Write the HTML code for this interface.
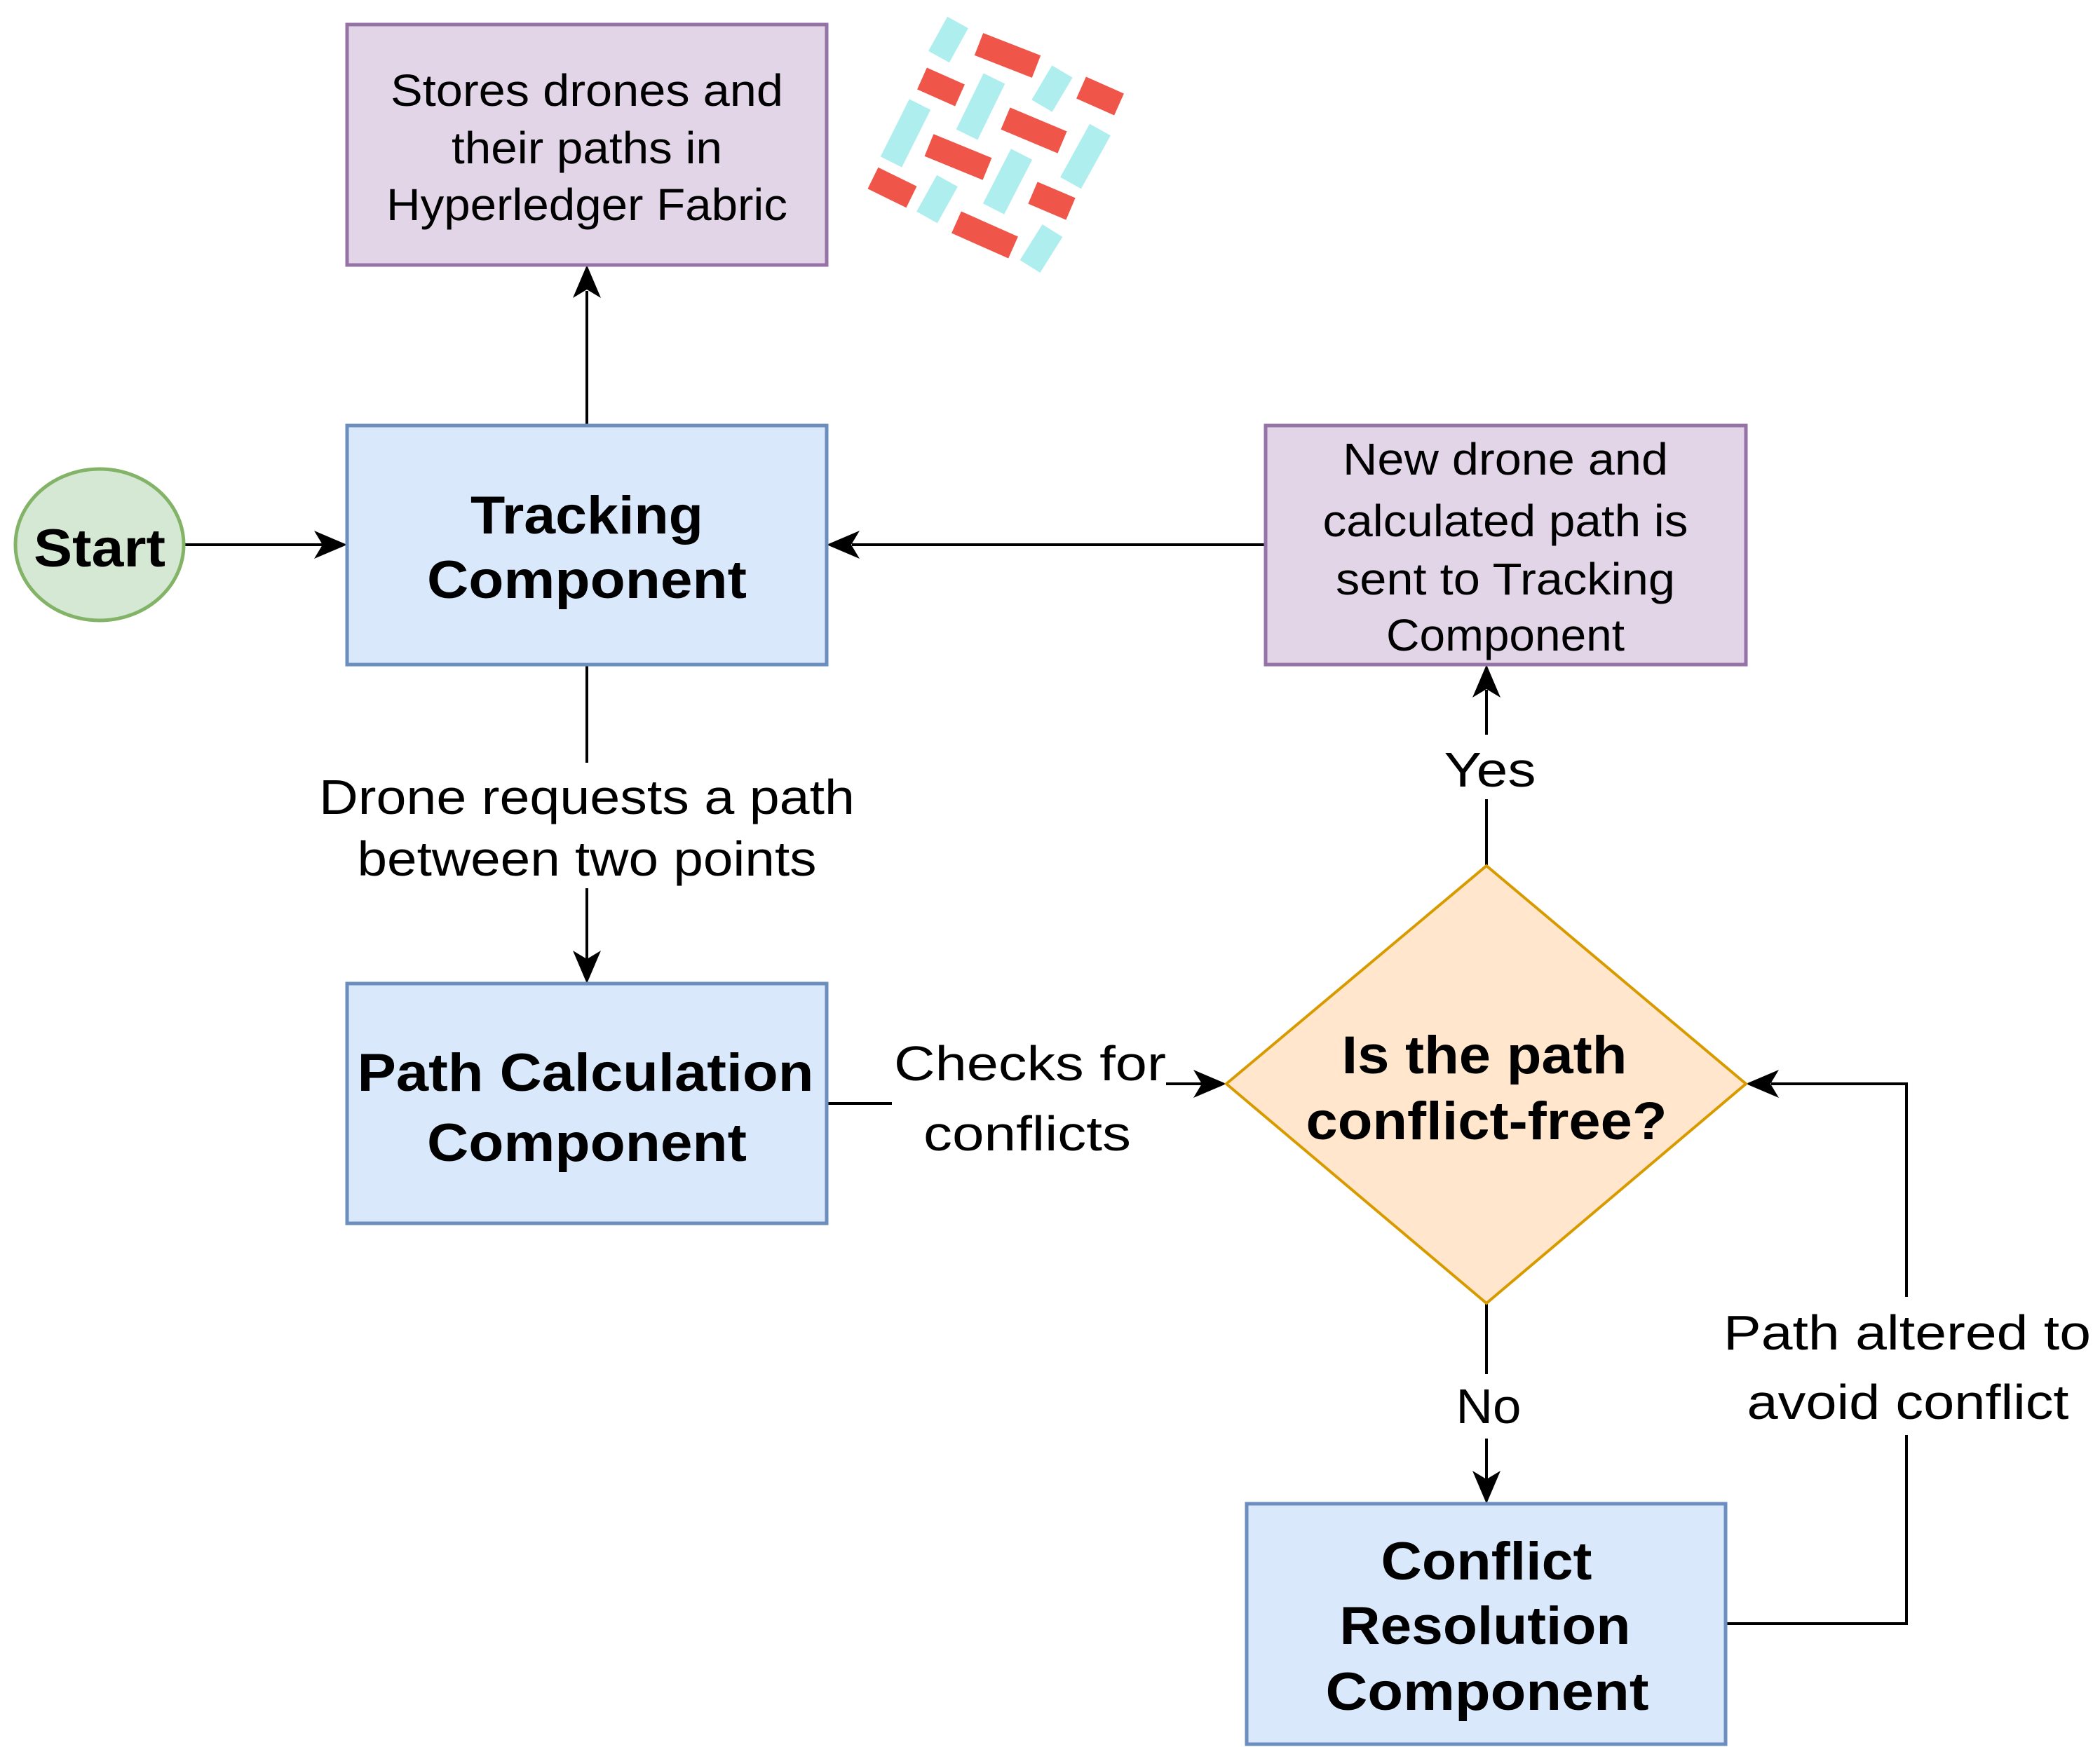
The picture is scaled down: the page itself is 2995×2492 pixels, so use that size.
<!DOCTYPE html>
<html><head><meta charset="utf-8"><style>
html,body{margin:0;padding:0;background:#fff;}
svg{display:block;}
text{font-family:"Liberation Sans",Arial,sans-serif;fill:#000;}
</style></head><body>
<svg width="2995" height="2492" viewBox="0 0 2995 2492" xmlns="http://www.w3.org/2000/svg">
<rect width="2995" height="2492" fill="#fff"/>

<!-- logo -->
<g stroke-width="34" stroke-linecap="butt">
<g stroke="#aeeeee">
<line x1="1366" y1="32" x2="1339" y2="81"/>
<line x1="1515" y1="102" x2="1486" y2="151"/>
<line x1="1418" y1="112" x2="1379" y2="192"/>
<line x1="1312" y1="149" x2="1271" y2="231"/>
<line x1="1569" y1="185" x2="1527" y2="261"/>
<line x1="1457" y1="220" x2="1417" y2="298"/>
<line x1="1351" y1="258" x2="1322" y2="310"/>
<line x1="1501" y1="329" x2="1469" y2="380"/>
</g>
<g stroke="#ef5549">
<line x1="1396" y1="63" x2="1478" y2="95"/>
<line x1="1315" y1="112" x2="1369" y2="136"/>
<line x1="1542" y1="125" x2="1596" y2="149"/>
<line x1="1434" y1="169" x2="1515" y2="203"/>
<line x1="1325" y1="207" x2="1408" y2="241"/>
<line x1="1245" y1="254" x2="1300" y2="281"/>
<line x1="1473" y1="275" x2="1527" y2="298"/>
<line x1="1364" y1="317" x2="1445" y2="353"/>
</g>
</g>

<!-- connectors -->
<g stroke="#000" stroke-width="4" fill="none">
<line x1="263" y1="777" x2="460" y2="777"/>
<line x1="837" y1="607" x2="837" y2="415"/>
<line x1="1805" y1="777" x2="1215" y2="777"/>
<line x1="837" y1="948" x2="837" y2="1088"/>
<line x1="837" y1="1267" x2="837" y2="1368"/>
<polyline points="1179,1574 1272,1574"/>
<line x1="1663" y1="1546" x2="1714" y2="1546"/>
<line x1="2120" y1="1235" x2="2120" y2="1140"/>
<line x1="2120" y1="1048" x2="2120" y2="984"/>
<line x1="2120" y1="1859" x2="2120" y2="1960"/>
<line x1="2120" y1="2052" x2="2120" y2="2110"/>
<polyline points="2461,2316 2719,2316 2719,2047"/>
<polyline points="2719,1850 2719,1546 2526,1546"/>
</g>
<g fill="#000">
<polygon points="495,777 448,757 460,777 448,797"/>
<polygon points="837,378 817,425 837,413 857,425"/>
<polygon points="1179,777 1226,757 1214,777 1226,797"/>
<polygon points="837,1403 817,1356 837,1368 857,1356"/>
<polygon points="1749,1546 1702,1526 1714,1546 1702,1566"/>
<polygon points="2120,948 2100,995 2120,983 2140,995"/>
<polygon points="2120,2145 2100,2098 2120,2110 2140,2098"/>
<polygon points="2490,1546 2537,1526 2525,1546 2537,1566"/>
</g>

<!-- shapes -->
<rect x="495" y="35" width="684" height="343" fill="#e1d5e7" stroke="#9673a6" stroke-width="5"/>
<rect x="495" y="607" width="684" height="341" fill="#dae8fc" stroke="#6c8ebf" stroke-width="5"/>
<rect x="1805" y="607" width="685" height="341" fill="#e1d5e7" stroke="#9673a6" stroke-width="5"/>
<rect x="495" y="1403" width="684" height="342" fill="#dae8fc" stroke="#6c8ebf" stroke-width="5"/>
<rect x="1778" y="2145" width="683" height="343" fill="#dae8fc" stroke="#6c8ebf" stroke-width="5"/>
<polygon points="2120,1235 2490,1546 2120,1859 1749,1546" fill="#ffe6cc" stroke="#d79b00" stroke-width="4"/>
<ellipse cx="142" cy="777" rx="120" ry="108" fill="#d5e8d4" stroke="#82b366" stroke-width="5"/>

<!-- text -->
<g font-size="64" text-anchor="middle">
<text x="837" y="151" textLength="560" lengthAdjust="spacingAndGlyphs">Stores drones and</text>
<text x="837" y="233" textLength="386" lengthAdjust="spacingAndGlyphs">their paths in</text>
<text x="837" y="314" textLength="572" lengthAdjust="spacingAndGlyphs">Hyperledger Fabric</text>
<text x="2147" y="677" textLength="464" lengthAdjust="spacingAndGlyphs">New  drone and</text>
<text x="2147" y="765" textLength="521" lengthAdjust="spacingAndGlyphs">calculated path is</text>
<text x="2147" y="848" textLength="484" lengthAdjust="spacingAndGlyphs">sent to Tracking</text>
<text x="2147" y="928" textLength="340" lengthAdjust="spacingAndGlyphs">Component</text>
</g>
<g font-size="70" text-anchor="middle">
<text x="837" y="1161" textLength="764" lengthAdjust="spacingAndGlyphs">Drone requests a path</text>
<text x="837" y="1249" textLength="655" lengthAdjust="spacingAndGlyphs">between two points</text>
<text x="1469" y="1541" textLength="388" lengthAdjust="spacingAndGlyphs">Checks  for</text>
<text x="1465" y="1641" textLength="296" lengthAdjust="spacingAndGlyphs">conflicts</text>
<text x="2125" y="1122" textLength="131" lengthAdjust="spacingAndGlyphs">Yes</text>
<text x="2123" y="2030" textLength="93" lengthAdjust="spacingAndGlyphs">No</text>
<text x="2720" y="1925" textLength="524" lengthAdjust="spacingAndGlyphs">Path altered to</text>
<text x="2721" y="2024" textLength="459" lengthAdjust="spacingAndGlyphs">avoid conflict</text>
</g>
<g font-size="76" text-anchor="middle" font-weight="bold">
<text x="142" y="808" textLength="188" lengthAdjust="spacingAndGlyphs">Start</text>
<text x="837" y="761" textLength="332" lengthAdjust="spacingAndGlyphs">Tracking</text>
<text x="837" y="853" textLength="456" lengthAdjust="spacingAndGlyphs">Component</text>
<text x="835" y="1556" textLength="651" lengthAdjust="spacingAndGlyphs">Path Calculation</text>
<text x="837" y="1656" textLength="456" lengthAdjust="spacingAndGlyphs">Component</text>
<text x="2117" y="1531" textLength="407" lengthAdjust="spacingAndGlyphs">Is the path</text>
<text x="2120" y="1625" textLength="515" lengthAdjust="spacingAndGlyphs">conflict-free?</text>
<text x="2120" y="2253" textLength="301" lengthAdjust="spacingAndGlyphs">Conflict</text>
<text x="2118" y="2345" textLength="415" lengthAdjust="spacingAndGlyphs">Resolution</text>
<text x="2121" y="2439" textLength="461" lengthAdjust="spacingAndGlyphs">Component</text>
</g>
</svg>
</body></html>
